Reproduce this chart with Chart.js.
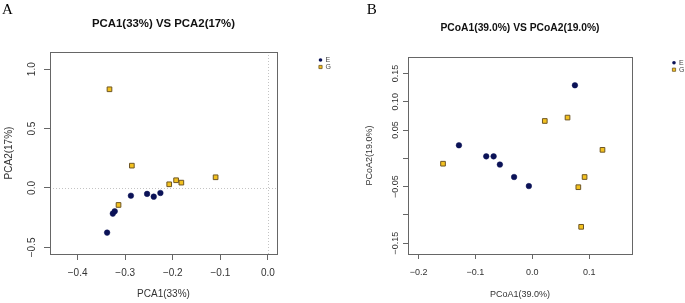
<!DOCTYPE html>
<html>
<head>
<meta charset="utf-8">
<script src="https://cdn.jsdelivr.net/npm/chart.js@4.4.1/dist/chart.umd.min.js"></script>
<style>
  html, body { margin: 0; padding: 0; background: #fff; }
  #wrap { position: relative; width: 685px; height: 303px; overflow: hidden; }
  .panel { position: absolute; top: 0; }
</style>
</head>
<body>
<div id="wrap">
  <div class="panel" style="left:0"><canvas id="pca" width="342" height="303"></canvas></div>
  <div class="panel" style="left:342px"><canvas id="pcoa" width="343" height="303"></canvas></div>
</div>
<script>
// ---- Panel A: PCA ----
const pcaEx = [-0.338, -0.326, -0.322, -0.288, -0.254, -0.240, -0.226];
const pcaEy = [-0.376, -0.216, -0.196, -0.065, -0.050, -0.073, -0.042];
const pcaGx = [-0.333, -0.286, -0.314, -0.2075, -0.193, -0.182, -0.110];
const pcaGy = [0.831, 0.188, -0.143, 0.031, 0.065, 0.045, 0.090];
const pcaXTicks = [-0.4, -0.3, -0.2, -0.1, 0.0];
const pcaYTicks = [-0.5, 0.0, 0.5, 1.0];

// ---- Panel B: PCoA ----
const pcoaEx = [0.075, -0.129, -0.081, -0.068, -0.057, -0.032, -0.006];
const pcoaEy = [0.129, 0.023, 0.0035, 0.0035, -0.011, -0.033, -0.049];
const pcoaGx = [-0.157, 0.022, 0.062, 0.1235, 0.092, 0.081, 0.086];
const pcoaGy = [-0.0095, 0.066, 0.072, 0.015, -0.033, -0.051, -0.121];
const pcoaXTicks = [-0.2, -0.1, 0.0, 0.1];
const pcoaYTicks = [-0.15, -0.10, -0.05, 0.0, 0.05, 0.10, 0.15];
const pcoaYLabels = [-0.15, -0.05, 0.05, 0.10, 0.15]; // R drops the ones that overlap

const groups = ['E', 'G'];

const NAVY = '#0b1257';
const GOLD = '#f3c11f';
const GOLD_EDGE = '#6e5624';
const AXIS = '#666';
const TEXT = '#333';
const SANS = '"Liberation Sans", Arial, sans-serif';

const pts = (xs, ys) => xs.map((x, i) => ({ x: x, y: ys[i] }));
const fmt = d => v => (v < 0 ? '\u2212' : '') + Math.abs(v).toFixed(d);
const near = (list, v) => list.some(t => Math.abs(t - v) < 1e-6);

function makeSets(ex, ey, gx, gy) {
    return [
        { label: groups[0], data: pts(ex, ey), pointStyle: 'circle', pointRadius: 2.8, pointHoverRadius: 2.8,
          backgroundColor: NAVY, borderColor: NAVY, borderWidth: 0.5 },
        { label: groups[1], data: pts(gx, gy), pointStyle: 'rect', pointRadius: 3.3, pointHoverRadius: 3.3,
          backgroundColor: GOLD, borderColor: GOLD_EDGE, borderWidth: 1 }
    ];
}

// box, zero lines, title, panel letter, little legend on the right
const decoPlugin = {
    id: 'deco',
    beforeDatasetsDraw(chart, args, o) {
        const { ctx, chartArea: a, scales: { x, y } } = chart;
        ctx.save();
        if (o.zeroLines) {
            ctx.strokeStyle = '#c4c4c4';
            ctx.lineWidth = 1;
            ctx.setLineDash([1, 2]);
            const px = Math.round(x.getPixelForValue(0)) + 0.5;
            const py = Math.round(y.getPixelForValue(0)) + 0.5;
            ctx.beginPath();
            ctx.moveTo(px, a.top); ctx.lineTo(px, a.bottom);
            ctx.moveTo(a.left, py); ctx.lineTo(a.right, py);
            ctx.stroke();
            ctx.setLineDash([]);
        }
        ctx.strokeStyle = AXIS;
        ctx.lineWidth = 1;
        ctx.strokeRect(Math.round(a.left) + 0.5, Math.round(a.top) + 0.5,
                       Math.round(a.width), Math.round(a.height));
        ctx.restore();
    },
    afterDraw(chart, args, o) {
        const { ctx, chartArea: a } = chart;
        ctx.save();
        ctx.fillStyle = '#111';
        ctx.font = 'bold ' + o.titleSize + 'px ' + SANS;
        ctx.textAlign = 'center';
        ctx.textBaseline = 'middle';
        ctx.fillText(o.title, (a.left + a.right) / 2, o.titleY);

        ctx.font = '15px "Liberation Serif", "Times New Roman", serif';
        ctx.textAlign = 'left';
        ctx.textBaseline = 'alphabetic';
        ctx.fillStyle = '#000';
        ctx.fillText(o.letter, o.letterX, 14);

        // legend
        ctx.font = '7px ' + SANS;
        ctx.textBaseline = 'middle';
        chart.data.datasets.forEach((ds, i) => {
            const lx = o.legendX, ly = o.legendY + i * 7;
            ctx.fillStyle = ds.backgroundColor;
            ctx.strokeStyle = ds.borderColor;
            ctx.lineWidth = 0.8;
            ctx.beginPath();
            if (ds.pointStyle === 'circle') {
                ctx.arc(lx, ly, 1.8, 0, Math.PI * 2);
                ctx.fill();
            } else {
                ctx.rect(lx - 1.6, ly - 1.6, 3.2, 3.2);
                ctx.fill();
                ctx.stroke();
            }
            ctx.fillStyle = '#444';
            ctx.fillText(ds.label, lx + 5, ly + 0.5);
        });
        ctx.restore();
    }
};

function axis(opts) {
    return {
        type: 'linear',
        min: opts.min,
        max: opts.max,
        afterFit: opts.fit,
        border: { display: false },
        grid: { drawOnChartArea: false, drawTicks: true, tickLength: opts.tickLen, tickColor: AXIS, tickWidth: 1 },
        ticks: {
            stepSize: opts.step,
            includeBounds: false,
            autoSkip: false,
            color: TEXT,
            font: { family: SANS, size: opts.fontSize },
            padding: opts.pad,
            minRotation: opts.rot || 0,
            maxRotation: opts.rot || 0,
            crossAlign: opts.rot ? 'center' : 'near',
            callback: opts.cb
        },
        afterBuildTicks: s => { s.ticks = opts.values.map(v => ({ value: v })); },
        title: {
            display: true,
            text: opts.title,
            color: TEXT,
            font: { family: SANS, size: opts.titleSize },
            padding: opts.titlePad
        }
    };
}

new Chart(document.getElementById('pca'), {
    type: 'scatter',
    data: { datasets: makeSets(pcaEx, pcaEy, pcaGx, pcaGy) },
    options: {
        responsive: false,
        animation: false,
        events: [],
        layout: { padding: { top: 52, right: 65, bottom: 0, left: 0 } },
        scales: {
            x: axis({ min: -0.458, max: 0.019, step: 0.1, values: pcaXTicks, tickLen: 6, fontSize: 10, pad: 7.5,
                      cb: fmt(1), title: 'PCA1(33%)', titleSize: 10, titlePad: { top: 0, bottom: 2.7 },
                      fit: s => { s.height = 49; } }),
            y: axis({ min: -0.556, max: 1.145, step: 0.5, values: pcaYTicks, tickLen: 6, fontSize: 10, pad: 2, rot: 90,
                      cb: fmt(1), title: 'PCA2(17%)', titleSize: 10, titlePad: { top: 3.5, bottom: 0 },
                      fit: s => { s.width = 50; } })
        },
        plugins: {
            legend: { display: false },
            tooltip: { enabled: false },
            deco: { title: 'PCA1(33%) VS PCA2(17%)', titleSize: 11.4, titleY: 24.3, letter: 'A', letterX: 2,
                    zeroLines: true, legendX: 320.5, legendY: 60 }
        }
    },
    plugins: [decoPlugin]
});

new Chart(document.getElementById('pcoa'), {
    type: 'scatter',
    data: { datasets: makeSets(pcoaEx, pcoaEy, pcoaGx, pcoaGy) },
    options: {
        responsive: false,
        animation: false,
        events: [],
        layout: { padding: { top: 57, right: 53, bottom: 0, left: 0 } },
        scales: {
            x: axis({ min: -0.2186, max: 0.1754, step: 0.1, values: pcoaXTicks, tickLen: 5, fontSize: 9, pad: 8,
                      cb: fmt(1), title: 'PCoA1(39.0%)', titleSize: 9, titlePad: { top: 0, bottom: 3 },
                      fit: s => { s.height = 49; } }),
            y: axis({ min: -0.169, max: 0.179, step: 0.05, values: pcoaYTicks, tickLen: 5, fontSize: 9, pad: -4, rot: 90,
                      cb: v => near(pcoaYLabels, v) ? fmt(2)(v) : '', title: 'PCoA2(19.0%)', titleSize: 9,
                      titlePad: { top: 22, bottom: 0 }, fit: s => { s.width = 66; } })
        },
        plugins: {
            legend: { display: false },
            tooltip: { enabled: false },
            deco: { title: 'PCoA1(39.0%) VS PCoA2(19.0%)', titleSize: 10.3, titleY: 28.3, letter: 'B', letterX: 24.7,
                    zeroLines: false, legendX: 332, legendY: 62.7 }
        }
    },
    plugins: [decoPlugin]
});
</script>
</body>
</html>
